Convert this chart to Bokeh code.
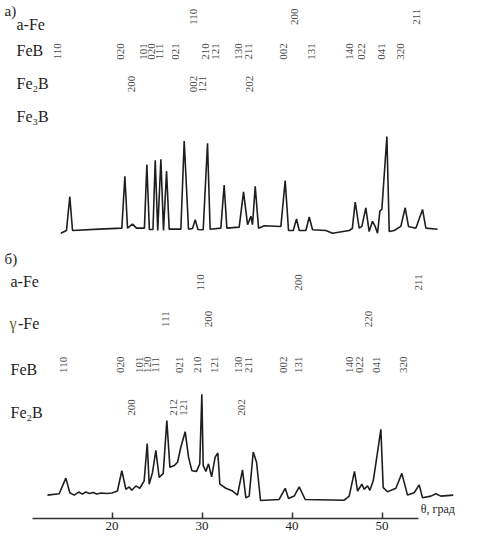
import math
from bokeh.plotting import figure
from bokeh.models import Range1d, ColumnDataSource, FixedTicker
from bokeh.core.properties import value
from bokeh.embed import file_html
from bokeh.resources import INLINE

# ---------------- data ----------------
# pattern (a): theta (deg) and intensity above its baseline (arb. units)
theta_a = [14.31, 14.94, 15.31, 15.61, 18.58, 21.09, 21.43, 21.72, 22.28, 22.72,
           23.6, 23.87, 24.15, 24.55, 24.8, 25.08, 25.43, 25.72, 26.06, 26.35,
           27.65, 28.02, 28.5, 28.95, 29.24, 29.55, 30.13, 30.61, 30.9, 32.09,
           32.46, 32.76, 34.13, 34.61, 35.06, 35.43, 35.61, 35.91, 36.28, 36.91,
           38.76, 39.24, 39.61, 40.13, 40.5, 40.8, 41.54, 41.91, 42.28, 43.76,
           44.5, 46.35, 46.7, 47.02, 47.46, 47.76, 48.2, 48.57, 48.94, 49.24,
           49.5, 49.76, 49.98, 50.54, 50.8, 51.35, 52.09, 52.57, 52.94, 53.76,
           54.5, 54.87, 56.17]
int_a = [-3.7, -1, 32.3, -1, 0.3, 1.3, 52.3, 1.3, 5.3, 1.3,
         1.3, 63.7, 0, 0, 68, -1, 69, -1, 57.3, 0.3,
         0.3, 87, 0.3, 1, 9.7, 0, -0.3, 84.7, 0.3, 1.3,
         43.7, 1.3, 2.3, 37, 4.7, 13, 4.7, 42.3, 1.3, 3.7,
         3, 48, -1, -1, 10.3, -1, -1, 12.3, -0.3, -1,
         -3.7, -1, 1, 27, 1.3, 3, 21.3, -2, 8, 3,
         -3.7, 18, 19.7, 91.3, -2, -1, 3, 21.3, 3, 1.3,
         19.7, 1.3, 0.3]

# pattern (b)
theta_b = [12.83, 14.13, 14.87, 15.31, 15.8, 16.3, 16.7, 17.1, 17.5, 17.9,
           18.3, 18.8, 19.4, 20.0, 20.6, 21.09, 21.54, 21.91, 22.2, 22.65,
           23.09, 23.57, 23.91, 24.13, 24.5, 24.87, 25.24, 25.69, 26.09, 26.43,
           26.91, 27.28, 27.65, 28.13, 28.5, 28.87, 29.39, 29.75, 29.98, 30.13,
           30.43, 30.72, 31.06, 31.46, 31.76, 31.98, 32.65, 33.39, 33.94, 34.5,
           34.87, 35.24, 35.69, 36.06, 36.5, 38.57, 39.24, 39.61, 40.24, 40.8,
           41.46, 45.8, 46.35, 46.94, 47.28, 47.76, 48.02, 48.39, 48.65, 49.02,
           49.31, 49.87, 50.13, 50.61, 51.54, 52.2, 52.83, 53.57, 54.13, 54.5,
           55.43, 55.98, 56.54, 57.91]
int_b = [6, 7.3, 22.7, 8.3, 6, 9, 7, 9, 7.5, 8.5,
         7, 8, 7.5, 8, 10, 30, 11.7, 14, 10.7, 15,
         12.7, 20, 56.7, 16.7, 28.3, 50, 23.3, 27.3, 79.3, 33.3,
         35, 38.3, 53.3, 68.3, 43.3, 30, 29.3, 36.7, 105, 35,
         29.3, 36.7, 24, 43.3, 47.3, 16.7, 12.7, 10, 6, 30.7,
         3.3, 5, 48.3, 38.3, 0.7, 1.7, 12.7, 2.7, 5, 14,
         1.7, 1, 5, 29.3, 10, 16.7, 11.7, 15, 10.7, 20,
         36.7, 70.7, 13.3, 9.3, 12.7, 27.3, 6, 8.3, 16, 3.3,
         5, 7.3, 5, 6]

# reflection labels (theta positions of hkl marks)
a_alpha_t = [29.06, 40.33, 53.83]
a_alpha_hkl = ["110", "200", "211"]
a_feb_t = [13.94, 20.94, 23.5, 24.39, 25.28, 27.06, 30.39, 31.5, 34.06, 35.17,
           39.06, 42.17, 46.44, 47.72, 49.94, 52.06]
a_feb_hkl = ["110", "020", "101", "020", "111", "021", "210", "121", "130", "211",
             "002", "131", "140", "022", "041", "320"]
a_fe2b_t = [22.17, 29.06, 30.06, 35.28]
a_fe2b_hkl = ["200", "002", "121", "202"]

b_alpha_t = [29.78, 40.72, 54.06]
b_alpha_hkl = ["110", "200", "211"]
b_gamma_t = [25.89, 30.72, 48.5]
b_gamma_hkl = ["111", "200", "220"]
b_feb_t = [14.56, 20.94, 23.06, 23.94, 24.83, 27.5, 29.5, 31.39, 34.06, 35.17,
           39.0, 40.72, 46.39, 47.5, 49.39, 52.39]
b_feb_hkl = ["110", "020", "101", "120", "111", "021", "210", "121", "130", "211",
             "002", "131", "140", "022", "041", "320"]
b_fe2b_t = [22.17, 26.83, 27.94, 34.39]
b_fe2b_hkl = ["200", "212", "121", "202"]

ticks = [20, 30, 40, 50]

# ---------------- figure ----------------
SERIF = value("Liberation Serif")
p = figure(width=462, height=532, output_backend="svg", toolbar_location=None,
           x_range=Range1d(7.61, 58.94), y_range=Range1d(16, 525),
           y_axis_location=None, min_border=0, min_border_left=0,
           min_border_right=0, min_border_top=0, min_border_bottom=0)
p.grid.visible = False
p.outline_line_color = None
p.background_fill_color = "white"
p.border_fill_color = "white"

base_a = 300
base_b = 33
p.line(theta_a, [v + base_a for v in int_a], line_color="#1e1e1e", line_width=1.6)
p.line(theta_b, [v + base_b for v in int_b], line_color="#1e1e1e", line_width=1.6)

def hkl_row(ts, labels, yrow):
    src = ColumnDataSource(dict(x=ts, y=[yrow] * len(ts), t=labels))
    p.text(x="x", y="y", text="t", source=src, angle=math.pi / 2,
           text_align="center", text_baseline="middle", text_font=SERIF,
           text_font_size="11px", text_color="#4a4a4a")

hkl_row(a_alpha_t, a_alpha_hkl, 509)
hkl_row(a_feb_t, a_feb_hkl, 475)
hkl_row(a_fe2b_t, a_fe2b_hkl, 443)
hkl_row(b_alpha_t, b_alpha_hkl, 248)
hkl_row(b_gamma_t, b_gamma_hkl, 212)
hkl_row(b_feb_t, b_feb_hkl, 167)
hkl_row(b_fe2b_t, b_fe2b_hkl, 125)

def name(x, y, t, color="#1e1e1e", size="16px", baseline="middle"):
    p.text(x=[x], y=[y], text=[t], text_align="left", text_baseline=baseline,
           text_font=SERIF, text_font_size=size, text_color=color)

name(8.06, 515, "а)", size="15px")
name(9.39, 501, "a-Fe")
name(9.39, 476, "FeB")
name(9.39, 443, "Fe₂B")
name(9.39, 411, "Fe₃B")
name(8.06, 271, "б)", size="15px")
name(8.72, 249, "a-Fe")
name(8.61, 208, "γ", color="#6b6030")
name(9.55, 208, "-Fe")
name(8.72, 162, "FeB")
name(8.72, 120, "Fe₂B")
# axis caption at the right end of the axis line
name(54.3, 18, "θ, град", size="12px", baseline="bottom")

ax = p.xaxis[0]
ax.ticker = FixedTicker(ticks=ticks)
ax.bounds = (11.2, 54.0)
ax.axis_line_color = "#333333"
ax.axis_line_width = 1.6
ax.major_tick_in = 6
ax.major_tick_out = 0
ax.major_tick_line_color = "#333333"
ax.major_tick_line_width = 1.5
ax.minor_tick_line_color = None
ax.major_label_text_font = "Liberation Serif"
ax.major_label_text_font_size = "13px"
ax.major_label_text_color = "#222222"
ax.major_label_standoff = 3

open("out.html", "w").write(file_html(p, INLINE))
